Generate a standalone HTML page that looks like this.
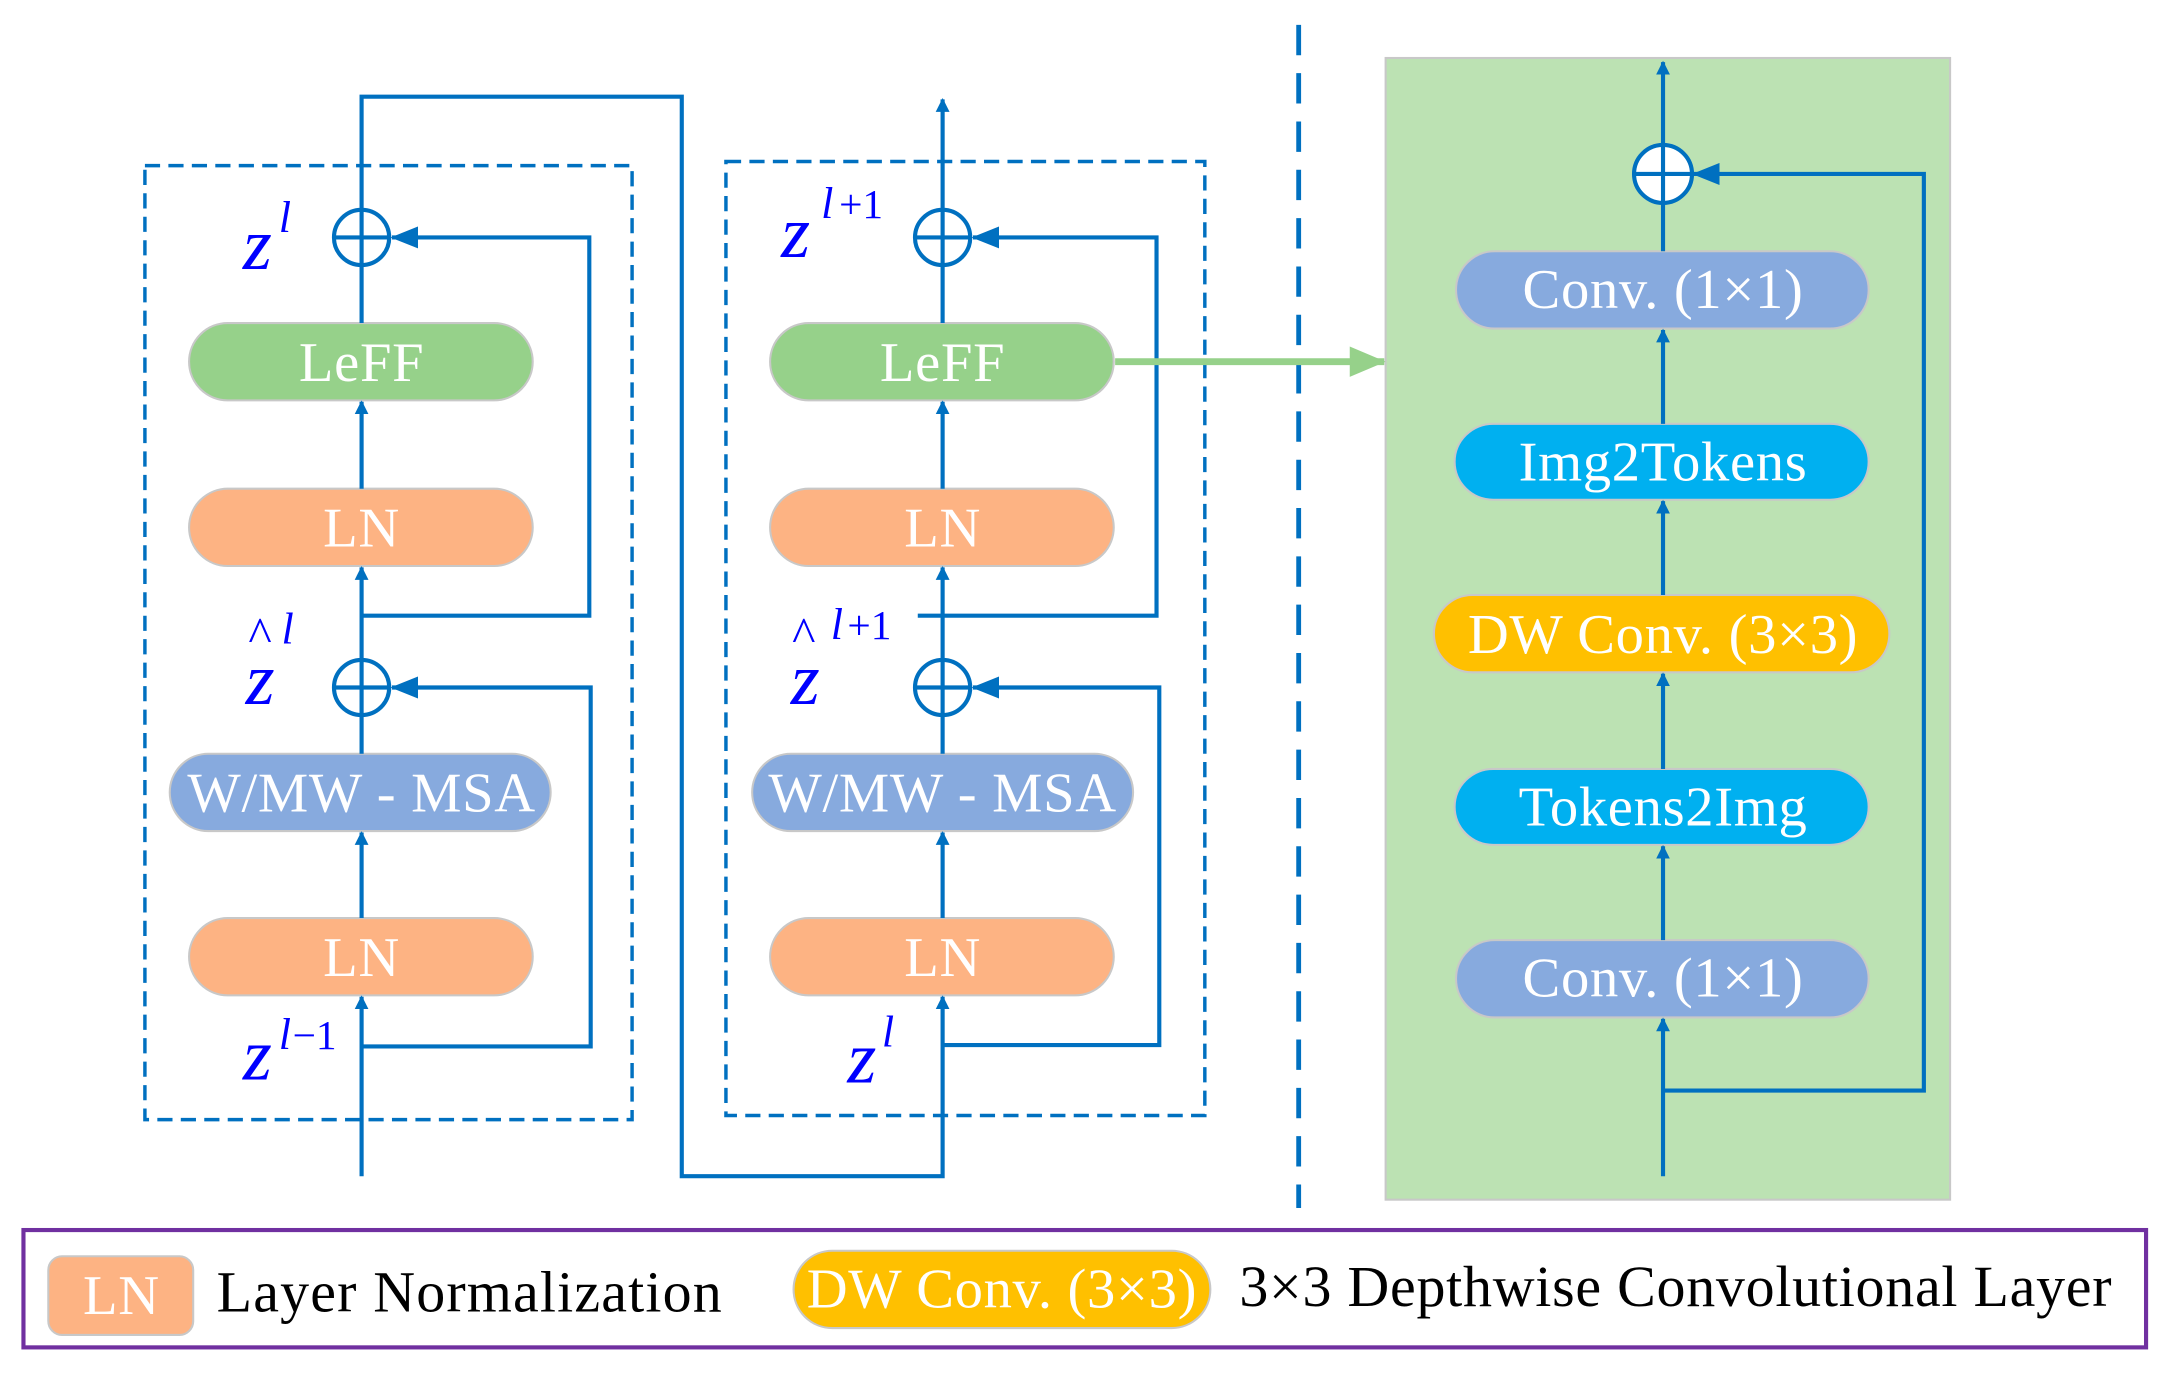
<!DOCTYPE html>
<html><head><meta charset="utf-8"><style>
html,body{margin:0;padding:0;background:#fff;}
svg{display:block;}
.bt{font-family:"Liberation Serif",serif;font-size:41px;fill:#fff;text-anchor:middle;letter-spacing:0.5px;}
.z{font-family:"Liberation Serif",serif;font-style:italic;fill:#0000ff;}
.lg{font-family:"Liberation Serif",serif;font-size:42px;fill:#000;}
</style></head><body>
<svg width="2164" height="1375" viewBox="0 0 1568 996" preserveAspectRatio="none" xmlns="http://www.w3.org/2000/svg">
<defs>
<marker id="a" markerWidth="10" markerHeight="10" refX="9" refY="5" orient="auto" markerUnits="userSpaceOnUse" viewBox="0 0 10 10"><path d="M0,0 L10,5 L0,10 z" fill="#0070c0"/></marker>
<marker id="ab" markerWidth="20" markerHeight="16" refX="19" refY="8" orient="auto" markerUnits="userSpaceOnUse" viewBox="0 0 20 16"><path d="M0,0 L20,8 L0,16 z" fill="#0070c0"/></marker>
<marker id="ag" markerWidth="26" markerHeight="22" refX="25" refY="11" orient="auto" markerUnits="userSpaceOnUse" viewBox="0 0 26 22"><path d="M0,0 L26,11 L0,22 z" fill="#96d18a"/></marker>
</defs>
<g fill="none" stroke="#0070c0" stroke-width="2.5" stroke-dasharray="11,6">
<rect x="105" y="120" width="353" height="691"/>
<rect x="526" y="117" width="347" height="691"/>
</g>
<line x1="941" y1="18" x2="941" y2="875" stroke="#0070c0" stroke-width="3.5" stroke-dasharray="22,13"/>
<rect x="1004" y="42" width="409" height="827" fill="#bce2b3" stroke="#c8c8c8" stroke-width="1.5"/>
<rect x="17" y="891" width="1538" height="85" fill="none" stroke="#7030a0" stroke-width="3"/>

<g stroke="#c8c8c8" stroke-width="1.5">
<rect x="137" y="234" width="249" height="56" rx="28" fill="#96d18a"/>
<rect x="137" y="354" width="249" height="56" rx="28" fill="#fdb383"/>
<rect x="123" y="546" width="276" height="56" rx="28" fill="#87aade"/>
<rect x="137" y="665" width="249" height="56" rx="28" fill="#fdb383"/>
<rect x="558" y="234" width="249" height="56" rx="28" fill="#96d18a"/>
<rect x="558" y="354" width="249" height="56" rx="28" fill="#fdb383"/>
<rect x="545" y="546" width="276" height="56" rx="28" fill="#87aade"/>
<rect x="558" y="665" width="249" height="56" rx="28" fill="#fdb383"/>
<rect x="1055" y="182" width="299" height="56" rx="28" fill="#87aade"/>
<rect x="1054" y="307" width="300" height="55" rx="28" fill="#00b0f0"/>
<rect x="1039" y="431" width="330" height="56" rx="28" fill="#ffc000"/>
<rect x="1054" y="557" width="300" height="55" rx="28" fill="#00b0f0"/>
<rect x="1055" y="681" width="299" height="56" rx="28" fill="#87aade"/>
<rect x="35" y="910" width="105" height="57" rx="10" fill="#fdb383"/>
<rect x="575" y="906" width="302" height="56" rx="28" fill="#ffc000"/>
</g>

<g fill="none" stroke="#0070c0" stroke-width="3">
<line x1="262" y1="852" x2="262" y2="722" marker-end="url(#a)"/>
<polyline points="262,758 428,758 428,498 284,498" marker-end="url(#ab)"/>
<line x1="262" y1="665" x2="262" y2="603" marker-end="url(#a)"/>
<line x1="262" y1="546" x2="262" y2="519"/>
<line x1="262" y1="477" x2="262" y2="411" marker-end="url(#a)"/>
<polyline points="262,446 427,446 427,172 284,172" marker-end="url(#ab)"/>
<line x1="262" y1="354" x2="262" y2="291" marker-end="url(#a)"/>
<line x1="262" y1="234" x2="262" y2="193"/>
<polyline points="262,151 262,70 494,70 494,852 683,852 683,722" marker-end="url(#a)"/>
<circle cx="262" cy="172" r="20"/><line x1="242" y1="172" x2="282" y2="172"/><line x1="262" y1="152" x2="262" y2="192"/>
<circle cx="262" cy="498" r="20"/><line x1="242" y1="498" x2="282" y2="498"/><line x1="262" y1="478" x2="262" y2="518"/>
<polyline points="683,757 840,757 840,498 705,498" marker-end="url(#ab)"/>
<line x1="683" y1="665" x2="683" y2="603" marker-end="url(#a)"/>
<line x1="683" y1="546" x2="683" y2="519"/>
<line x1="683" y1="477" x2="683" y2="411" marker-end="url(#a)"/>
<polyline points="665,446 838,446 838,172 705,172" marker-end="url(#ab)"/>
<line x1="683" y1="354" x2="683" y2="291" marker-end="url(#a)"/>
<line x1="683" y1="234" x2="683" y2="193"/>
<line x1="683" y1="151" x2="683" y2="72" marker-end="url(#a)"/>
<circle cx="683" cy="172" r="20"/><line x1="663" y1="172" x2="703" y2="172"/><line x1="683" y1="152" x2="683" y2="192"/>
<circle cx="683" cy="498" r="20"/><line x1="663" y1="498" x2="703" y2="498"/><line x1="683" y1="478" x2="683" y2="518"/>
<line x1="1205" y1="852" x2="1205" y2="738" marker-end="url(#a)"/>
<polyline points="1205,790 1394,790 1394,126 1227,126" marker-end="url(#ab)"/>
<line x1="1205" y1="681" x2="1205" y2="613" marker-end="url(#a)"/>
<line x1="1205" y1="557" x2="1205" y2="488" marker-end="url(#a)"/>
<line x1="1205" y1="431" x2="1205" y2="363" marker-end="url(#a)"/>
<line x1="1205" y1="307" x2="1205" y2="239" marker-end="url(#a)"/>
<line x1="1205" y1="182" x2="1205" y2="147"/>
<line x1="1205" y1="105" x2="1205" y2="45" marker-end="url(#a)"/>
<circle cx="1205" cy="126" r="21" fill="#fff"/><line x1="1184" y1="126" x2="1226" y2="126"/><line x1="1205" y1="105" x2="1205" y2="147"/>
</g>
<line x1="808" y1="262" x2="1003" y2="262" stroke="#96d18a" stroke-width="5" marker-end="url(#ag)"/>

<g class="bt">
<text x="262" y="276">LeFF</text>
<text x="262" y="396">LN</text>
<text x="262" y="588">W/MW - MSA</text>
<text x="262" y="707">LN</text>
<text x="683" y="276">LeFF</text>
<text x="683" y="396">LN</text>
<text x="683" y="588">W/MW - MSA</text>
<text x="683" y="707">LN</text>
<text x="1205" y="223">Conv. (1×1)</text>
<text x="1205" y="348">Img2Tokens</text>
<text x="1205" y="473">DW Conv. (3×3)</text>
<text x="1205" y="598">Tokens2Img</text>
<text x="1205" y="722">Conv. (1×1)</text>
<text x="88" y="952">LN</text>
<text x="726" y="947">DW Conv. (3×3)</text>
</g>
<text class="lg" x="157" y="950" textLength="366" lengthAdjust="spacing">Layer Normalization</text>
<text class="lg" x="898" y="946" textLength="632" lengthAdjust="spacing">3×3 Depthwise Convolutional Layer</text>

<g class="z">
<text x="176" y="195" font-size="54">z</text><text x="202" y="168" font-size="32">l</text>
<text x="566" y="186" font-size="54">z</text><text x="595" y="158" font-size="32">l</text><text x="608" y="158" font-size="30" font-style="normal">+1</text>
<text x="180" y="472" font-size="36" font-style="normal">^</text><text x="204" y="466" font-size="32">l</text>
<text x="178" y="510" font-size="54">z</text>
<text x="574" y="472" font-size="36" font-style="normal">^</text><text x="602" y="463" font-size="32">l</text><text x="614" y="463" font-size="30" font-style="normal">+1</text>
<text x="573" y="510" font-size="54">z</text>
<text x="176" y="782" font-size="54">z</text><text x="202" y="760" font-size="32">l</text><text x="212" y="760" font-size="30" font-style="normal">−1</text>
<text x="614" y="784" font-size="54">z</text><text x="639" y="758" font-size="32">l</text>
</g>
</svg>
</body></html>
